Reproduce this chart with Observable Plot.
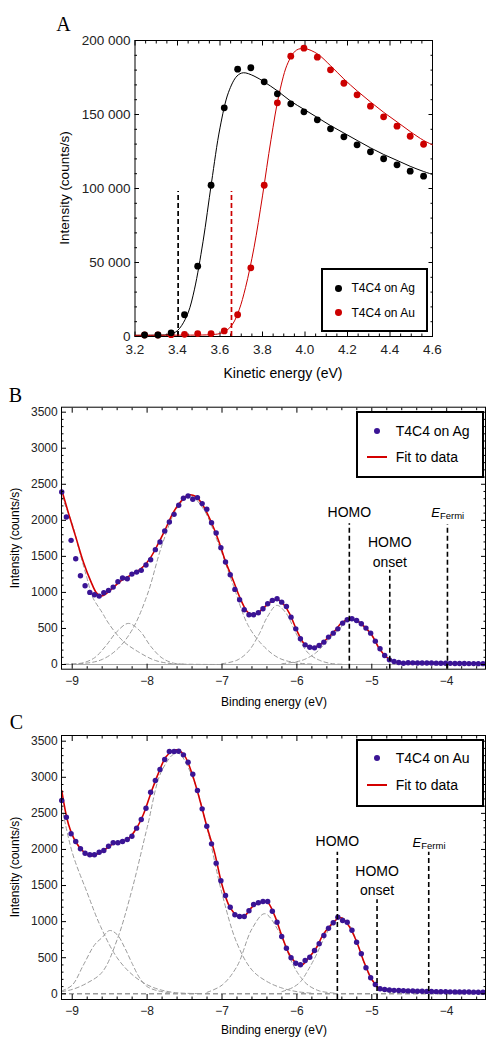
<!DOCTYPE html>
<html><head><meta charset="utf-8">
<script src="https://cdn.jsdelivr.net/npm/d3@7"></script>
<script src="https://cdn.jsdelivr.net/npm/@observablehq/plot@0.6"></script>
<style>
body{margin:0;background:#fff;}
#root{position:relative;width:486px;height:1037px;overflow:hidden;font-family:"Liberation Sans",Arial,sans-serif;color:#000;}
.t{position:absolute;white-space:nowrap;line-height:1;}
</style></head><body><div id="root"></div>
<script>
// ---------------- Panel A data (kinetic energy) ----------------
const kineticEnergy = [3.245,3.308,3.370,3.433,3.495,3.558,3.620,3.683,3.745,3.808,3.870,3.933,3.995,4.058,4.120,4.183,4.245,4.308,4.370,4.433,4.495,4.558];
const agCounts = [1000,1000,2500,14700,47500,102200,154500,180600,181600,172100,164000,157200,151800,146400,140300,134900,129500,124800,120100,116000,111700,108300];
const auCounts = [1000,1000,1200,1500,2000,2000,3800,14700,46400,102200,157900,189400,194800,188700,180200,171100,163300,155600,148400,142100,135300,129900];
const agFitX = [3.2,3.3,3.35,3.38,3.4,3.42,3.45,3.48,3.52,3.56,3.6,3.64,3.68,3.71,3.76,3.808,3.87,3.933,3.995,4.058,4.12,4.183,4.245,4.308,4.37,4.433,4.495,4.558,4.6];
const agFitY = [800,900,1200,2200,4000,7500,16000,32000,64000,104000,141000,165000,176000,178200,176000,172000,166000,159000,153500,148000,142500,137500,132500,127500,123000,119000,115000,111500,109500];
const auFitX = [3.2,3.4,3.55,3.6,3.63,3.66,3.69,3.72,3.76,3.8,3.84,3.88,3.92,3.96,4.0,4.058,4.12,4.183,4.245,4.308,4.37,4.433,4.495,4.558,4.6];
const auFitY = [800,900,1200,2000,4000,8500,18000,33000,60000,95000,133000,165000,185000,193500,194500,191000,183000,174000,166000,158500,151500,145000,138500,132500,129500];
const edgeEnergy = [3.403, 3.654];
const edgeTop = [98000, 98000];
const edgeColor = ["#000000", "#cc0000"];
const kinXTicks = [3.2,3.4,3.6,3.8,4.0,4.2,4.4,4.6];
const kinYTicks = [0,50000,100000,150000,200000];

// ---------------- Panels B and C data (binding energy) ----------------
const bindingEnergy = [-9.140,-9.078,-9.015,-8.953,-8.890,-8.828,-8.765,-8.703,-8.640,-8.578,-8.515,-8.453,-8.390,-8.328,-8.265,-8.203,-8.140,-8.078,-8.015,-7.953,-7.890,-7.828,-7.765,-7.703,-7.640,-7.578,-7.515,-7.453,-7.390,-7.328,-7.265,-7.203,-7.140,-7.078,-7.015,-6.953,-6.890,-6.828,-6.765,-6.703,-6.640,-6.578,-6.515,-6.453,-6.390,-6.328,-6.265,-6.203,-6.140,-6.078,-6.015,-5.953,-5.890,-5.828,-5.765,-5.703,-5.640,-5.578,-5.515,-5.453,-5.390,-5.328,-5.265,-5.203,-5.140,-5.078,-5.015,-4.953,-4.890,-4.828,-4.765,-4.703,-4.640,-4.578,-4.515,-4.453,-4.390,-4.328,-4.265,-4.203,-4.140,-4.078,-4.015,-3.953,-3.890,-3.828,-3.765,-3.703,-3.640,-3.578,-3.515];
const agUps = [2393,2046,1722,1468,1232,1093,1000,968,949,996,1028,1074,1149,1199,1190,1254,1282,1306,1380,1454,1593,1699,1852,1977,2083,2208,2306,2338,2292,2315,2232,2153,1968,1824,1621,1421,1246,1042,898,760,690,690,718,773,843,889,912,865,806,657,495,357,273,240,231,264,310,380,435,495,574,620,634,611,565,505,435,324,218,125,65,42,28,18,24,23,22,21,20,20,19,18,17,16,15,15,14,13,13,12,12];
const auUps = [2678,2447,2217,2110,2009,1948,1926,1926,1962,1985,2045,2092,2092,2110,2138,2184,2295,2415,2572,2793,2955,3108,3246,3357,3357,3361,3311,3209,3043,2817,2563,2322,2078,1810,1566,1362,1200,1095,1071,1071,1150,1237,1261,1279,1279,1144,992,794,632,499,424,402,461,507,600,693,808,909,984,1061,1015,992,880,715,554,360,222,129,69,60,52,48,45,42,40,38,36,35,33,32,30,30,28,27,26,25,25,24,23,22,22];

const bFitX = [-9.14,-9.05,-8.95,-8.85,-8.75,-8.68,-8.62,-8.55,-8.45,-8.35,-8.25,-8.15,-8.05,-7.95,-7.85,-7.75,-7.65,-7.55,-7.45,-7.35,-7.25,-7.15,-7.05,-6.95,-6.85,-6.75,-6.65,-6.55,-6.45,-6.35,-6.27,-6.2,-6.1,-6.0,-5.9,-5.8,-5.7,-5.6,-5.5,-5.4,-5.3,-5.2,-5.1,-5.0,-4.9,-4.8,-4.7,-4.6,-4.4,-4.0,-3.48];
const bFitY = [2420,2100,1760,1420,1150,1000,950,980,1070,1160,1220,1280,1360,1490,1680,1890,2110,2260,2350,2330,2200,1990,1730,1420,1165,900,720,700,780,870,905,860,710,470,285,233,270,355,460,580,630,610,525,410,220,100,38,20,12,10,8];
const b1X = [-9.14,-9.0,-8.9,-8.8,-8.73,-8.6,-8.51,-8.33,-8.11,-7.89,-7.67,-7.4,-7.0];
const b1Y = [2330,1950,1560,1190,940,720,565,333,171,56,12,3,0];
const b2X = [-9.0,-8.85,-8.7,-8.55,-8.4,-8.25,-8.1,-7.95,-7.8,-7.65,-7.5];
const b2Y = [5,25,95,260,460,570,470,250,90,20,4];
const b3X = [-9.1,-8.8,-8.6,-8.4,-8.2,-8.0,-7.8,-7.6,-7.43,-7.25,-7.05,-6.85,-6.65,-6.45,-6.25,-6.05,-5.8];
const b3Y = [5,20,70,210,480,960,1660,2170,2340,2160,1680,1100,540,260,95,30,5];
const b4X = [-7.0,-6.8,-6.65,-6.5,-6.4,-6.27,-6.15,-6.0,-5.85,-5.7,-5.55,-5.4];
const b4Y = [10,60,180,430,650,820,720,410,160,60,15,3];
const b5X = [-6.2,-6.0,-5.9,-5.75,-5.6,-5.45,-5.28,-5.15,-5.0,-4.9,-4.8,-4.7,-4.55];
const b5Y = [10,40,70,160,320,475,630,560,400,220,95,35,8];

const cFitX = [-9.14,-9.05,-8.95,-8.85,-8.75,-8.65,-8.55,-8.45,-8.35,-8.25,-8.15,-8.05,-7.95,-7.85,-7.75,-7.65,-7.58,-7.5,-7.4,-7.3,-7.2,-7.1,-7.0,-6.9,-6.8,-6.7,-6.6,-6.5,-6.4,-6.3,-6.2,-6.1,-6.0,-5.93,-5.85,-5.75,-5.65,-5.55,-5.45,-5.4,-5.3,-5.2,-5.1,-5.0,-4.9,-4.8,-4.6,-4.0,-3.48];
const cFitY = [2817,2350,2100,1970,1910,1945,2010,2080,2105,2150,2280,2485,2780,3055,3280,3370,3375,3300,3050,2700,2310,1960,1510,1210,1085,1080,1200,1260,1275,1090,800,545,420,400,490,620,820,950,1045,1050,930,715,430,200,75,50,40,28,22];
const c1X = [-9.14,-9.0,-8.8,-8.62,-8.4,-8.18,-7.95,-7.67,-7.3];
const c1Y = [2600,1960,1400,930,499,249,101,22,3];
const c2X = [-9.14,-9.0,-8.85,-8.7,-8.6,-8.5,-8.4,-8.3,-8.2,-8.1,-8.0,-7.85,-7.7];
const c2Y = [40,120,400,680,780,877,820,640,420,220,100,40,15];
const c3X = [-9.14,-9.0,-8.8,-8.6,-8.4,-8.2,-8.0,-7.8,-7.6,-7.4,-7.2,-7.0,-6.8,-6.6,-6.4,-6.2,-6.0,-5.8];
const c3Y = [30,60,150,300,750,1450,2300,3100,3340,3020,2300,1390,700,330,170,80,30,8];
const c4X = [-7.2,-7.0,-6.8,-6.6,-6.43,-6.25,-6.05,-5.95,-5.85,-5.7,-5.5];
const c4Y = [20,120,380,900,1110,880,400,230,120,40,10];
const c5X = [-6.2,-6.05,-5.95,-5.85,-5.75,-5.65,-5.55,-5.45,-5.38,-5.3,-5.2,-5.1,-5.0,-4.9,-4.8,-4.7];
const c5Y = [30,90,170,330,520,740,930,1040,1050,960,720,420,190,80,30,10];

// marker lines: HOMO, HOMO onset, E_Fermi
const bMarkerX = [-5.30, -4.76, -3.99];
const bMarkerTop = [1954, 1306, 1940];
const cMarkerX = [-5.46, -4.93, -4.24];
const cMarkerTop = [1962, 1302, 1962];
const bindXTicks = [-9,-8,-7,-6,-5,-4];
const bindYTicks = [0,500,1000,1500,2000,2500,3000,3500];

// ---------------- helpers ----------------
const SANS = "Liberation Sans, Arial, Helvetica, sans-serif";
const SERIF = "Liberation Serif, Times New Roman, serif";
const root = document.getElementById("root");
const zip = (xs, ys) => xs.map((x, i) => ({x, y: ys[i]}));

function addText(str, x, y, {size = 12, family = SANS, rotate = 0, italic = false, align = "center"} = {}) {
  const d = document.createElement("div");
  d.className = "t";
  d.textContent = str;
  d.style.fontSize = size + "px";
  d.style.fontFamily = family;
  if (italic) d.style.fontStyle = "italic";
  d.style.left = x + "px";
  d.style.top = y + "px";
  const tx = align === "center" ? "-50%" : align === "left" ? "0" : "-100%";
  d.style.transform = rotate ? `translate(-50%,-50%) rotate(${rotate}deg)` : `translate(${tx},-50%)`;
  root.appendChild(d);
  return d;
}
function addBox(left, top, w, h, bw) {
  const d = document.createElement("div");
  d.style.cssText = `position:absolute;left:${left}px;top:${top}px;width:${w}px;height:${h}px;box-sizing:border-box;border:${bw}px solid #000;background:#fff;`;
  root.appendChild(d);
}
function addDot(cx, cy, r, color) {
  const d = document.createElement("div");
  d.style.cssText = `position:absolute;left:${cx - r}px;top:${cy - r}px;width:${2*r}px;height:${2*r}px;border-radius:50%;background:${color};`;
  root.appendChild(d);
}
function addLine(x1, x2, y, color, w) {
  const d = document.createElement("div");
  d.style.cssText = `position:absolute;left:${x1}px;top:${Math.round(y - w/2)}px;width:${x2 - x1}px;height:${w}px;background-color:${color};`;
  root.appendChild(d);
}
function place(svg, top) {
  const d = document.createElement("div");
  d.style.cssText = `position:absolute;left:0;top:${top}px;`;
  d.appendChild(svg);
  root.appendChild(d);
}
function minorTicks(lo, hi, step, majorStep) {
  return d3.range(Math.round(lo / step), Math.round(hi / step) + 1)
    .map(k => +(k * step).toFixed(6))
    .filter(v => v >= lo - 1e-9 && v <= hi + 1e-9 && Math.abs(v / majorStep - Math.round(v / majorStep)) > 1e-6);
}
function frameAxes({xMajor, xMinor, yMajor, yMinor, xFmt, yFmt, size, xPad, yPad, maj, min}) {
  const tk = (f, anchor, ticks, len) => f({anchor, ticks, tickSize: -len, fill: "none", label: null, stroke: "#000"});
  return [
    tk(Plot.axisX, "bottom", xMajor, maj), tk(Plot.axisX, "top", xMajor, maj),
    tk(Plot.axisX, "bottom", xMinor, min), tk(Plot.axisX, "top", xMinor, min),
    tk(Plot.axisY, "left", yMajor, maj), tk(Plot.axisY, "right", yMajor, maj),
    tk(Plot.axisY, "left", yMinor, min), tk(Plot.axisY, "right", yMinor, min),
    Plot.axisX({anchor: "bottom", ticks: xMajor, tickSize: 0, tickPadding: xPad, tickFormat: xFmt, fontSize: size, label: null, fill: "#222"}),
    Plot.axisY({anchor: "left", ticks: yMajor, tickSize: 0, tickPadding: yPad, tickFormat: yFmt, fontSize: size, label: null, fill: "#222"}),
    Plot.frame({stroke: "#000", strokeWidth: 1})
  ];
}

// ---------------- Panel A ----------------
const fmtA = d => d3.format(",")(d).replace(/,/g, " ");
const plotA = Plot.plot({
  width: 486, height: 385,
  marginLeft: 134.5, marginRight: 54, marginTop: 40, marginBottom: 49,
  x: {domain: [3.2, 4.6]},
  y: {domain: [0, 200000]},
  style: {fontFamily: SANS, background: "transparent", overflow: "visible"},
  marks: [
    ...frameAxes({xMajor: kinXTicks, xMinor: minorTicks(3.2, 4.6, 0.05, 0.2), yMajor: kinYTicks, yMinor: minorTicks(0, 200000, 10000, 50000),
      xFmt: d3.format(".1f"), yFmt: fmtA, size: 13.5, xPad: 8, yPad: 4.5, maj: 4.5, min: 2.5}),
    Plot.ruleX(edgeEnergy.map((e, i) => ({x: e, top: edgeTop[i], c: edgeColor[i]})),
      {x: "x", y1: 0, y2: "top", stroke: "c", strokeWidth: 1.7, strokeDasharray: "5,3"}),
    Plot.line(zip(agFitX, agFitY), {x: "x", y: "y", stroke: "#000", strokeWidth: 1, curve: "catmull-rom"}),
    Plot.line(zip(auFitX, auFitY), {x: "x", y: "y", stroke: "#cc0000", strokeWidth: 1, curve: "catmull-rom"}),
    Plot.dot(zip(kineticEnergy, auCounts), {x: "x", y: "y", r: 3.4, fill: "#cc0000"}),
    Plot.dot(zip(kineticEnergy, agCounts), {x: "x", y: "y", r: 3.4, fill: "#000"})
  ]
});
place(plotA, 0);

// ---------------- Panels B, C ----------------
const INDIGO = "#3a1495";
const RED = "#d40000";
const GRAY = "#9a9a9a";
function xpsPlot({height, mTop, mBottom, yDomain, ups, fitX, fitY, comps, markerX, markerTop, labels, baseDash}) {
  const ymin = yDomain[0];
  return Plot.plot({
    width: 486, height,
    marginLeft: 61, marginRight: 1, marginTop: mTop, marginBottom: mBottom,
    x: {domain: [-9.143, -3.482]},
    y: {domain: yDomain},
    style: {fontFamily: SANS, background: "transparent", overflow: "visible"},
    marks: [
      baseDash
        ? Plot.ruleY([0], {stroke: GRAY, strokeWidth: 1.6, strokeDasharray: "5,3"})
        : Plot.ruleY([0], {stroke: "#a8a8a8", strokeWidth: 1}),
      ...comps.map(([cx, cy]) => Plot.line(zip(cx, cy), {x: "x", y: "y", stroke: GRAY, strokeWidth: 1, strokeDasharray: "4,3", curve: "catmull-rom", clip: true})),
      Plot.line(zip(fitX, fitY), {x: "x", y: "y", stroke: RED, strokeWidth: 1.6, curve: "catmull-rom", clip: true}),
      Plot.dot(zip(bindingEnergy, ups), {x: "x", y: "y", r: 2.7, fill: INDIGO}),
      Plot.ruleX(markerX.map((m, i) => ({x: m, top: markerTop[i]})), {x: "x", y1: ymin, y2: "top", stroke: "#000", strokeWidth: 1.6, strokeDasharray: "5,3"}),
      Plot.text(labels.filter(d => !d.sub && !d.e), {x: "x", y: "y", text: "t", fontSize: 14, fill: "#000"}),
      Plot.text(labels.filter(d => d.e), {x: "x", y: "y", text: "t", fontSize: 13, fontStyle: "italic", textAnchor: "end", dx: -7.5, dy: 1, fill: "#000"}),
      Plot.text(labels.filter(d => d.sub), {x: "x", y: "y", text: "t", fontSize: 9.5, textAnchor: "start", dx: -7.5, dy: 4, fill: "#000"}),
      ...frameAxes({xMajor: bindXTicks, xMinor: minorTicks(-9.14, -3.5, 0.2, 1), yMajor: bindYTicks, yMinor: minorTicks(0, 3500, 100, 500),
        xFmt: d3.format("d"), yFmt: d3.format("d"), size: 12, xPad: 7, yPad: 3.8, maj: 5, min: 2.5})
    ]
  });
}
function markerLabels(mx, yHomo, yOn1, yOn2) {
  return [
    {x: mx[0], y: yHomo, t: "HOMO"},
    {x: mx[1], y: yOn1, t: "HOMO"},
    {x: mx[1], y: yOn2, t: "onset"},
    {x: mx[2], y: yHomo, t: "E", e: true},
    {x: mx[2], y: yHomo, t: "Fermi", sub: true}
  ];
}
const plotB = xpsPlot({height: 330, mTop: 16.7, mBottom: 51.3, yDomain: [-65, 3569], ups: agUps, fitX: bFitX, fitY: bFitY,
  comps: [[b1X, b1Y], [b2X, b2Y], [b3X, b3Y], [b4X, b4Y], [b5X, b5Y]], markerX: bMarkerX, markerTop: bMarkerTop,
  labels: markerLabels(bMarkerX, 2115, 1699, 1413), baseDash: false});
place(plotB, 390);
const plotC = xpsPlot({height: 317, mTop: 15, mBottom: 38, yDomain: [-79, 3579], ups: auUps, fitX: cFitX, fitY: cFitY,
  comps: [[c1X, c1Y], [c2X, c2Y], [c3X, c3Y], [c4X, c4Y], [c5X, c5Y]], markerX: cMarkerX, markerTop: cMarkerTop,
  labels: markerLabels(cMarkerX, 2110, 1699, 1431), baseDash: true});
place(plotC, 720);

// ---------------- titles, panel letters ----------------
addText("A", 63.5, 23.5, {size: 20, family: SERIF});
addText("B", 15.5, 394.5, {size: 20, family: SERIF});
addText("C", 16.5, 721.5, {size: 20, family: SERIF});
addText("Intensity (counts/s)", 65, 188, {size: 13.5, rotate: -90});
addText("Kinetic energy (eV)", 283, 373.3, {size: 14});
addText("Intensity (counts/s)", 15, 537.7, {size: 12, rotate: -90});
addText("Binding energy (eV)", 274, 702, {size: 12});
addText("Intensity (counts/s)", 15, 867, {size: 12, rotate: -90});
addText("Binding energy (eV)", 274, 1030, {size: 12});

// ---------------- legends ----------------
addBox(320.7, 268.3, 107, 64, 2.5);
addDot(338.3, 288.3, 3.4, "#000");
addText("T4C4 on Ag", 351.5, 288.3, {size: 12, align: "left"});
addDot(338.3, 312.7, 3.4, "#cc0000");
addText("T4C4 on Au", 351.5, 312.7, {size: 12, align: "left"});

addBox(356, 410.7, 128, 67.6, 2.5);
addDot(377.3, 431, 3, INDIGO);
addText("T4C4 on Ag", 395.7, 431, {size: 14, align: "left"});
addLine(366.7, 386.7, 457.3, RED, 2);
addText("Fit to data", 395.7, 457.3, {size: 14, align: "left"});

addBox(356, 739.3, 128, 67.4, 2.5);
addDot(377.3, 758.3, 3, INDIGO);
addText("T4C4 on Au", 395.7, 758.3, {size: 14, align: "left"});
addLine(366.7, 386.7, 785.3, RED, 2);
addText("Fit to data", 395.7, 785.3, {size: 14, align: "left"});
</script>
</body></html>
